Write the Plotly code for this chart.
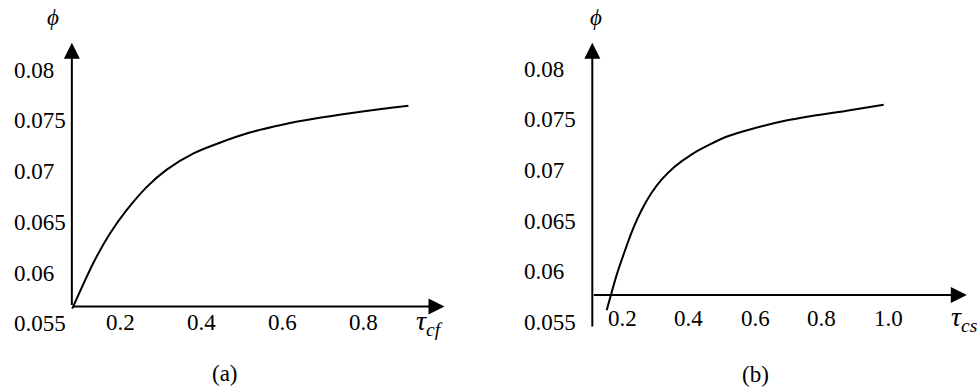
import plotly.graph_objects as go

# ---- data ----
tau_cf = [0.082, 0.134, 0.175, 0.216, 0.266, 0.315, 0.381, 0.446, 0.520, 0.603, 0.685, 0.767, 0.849, 0.911]
phi_a = [0.0565, 0.0610, 0.0639, 0.0662, 0.0685, 0.0702, 0.0718, 0.07285, 0.07385, 0.07465, 0.07525, 0.07575, 0.0762, 0.0765]

tau_cs = [0.154, 0.184, 0.209, 0.234, 0.259, 0.289, 0.319, 0.359, 0.410, 0.460, 0.520, 0.590, 0.690, 0.775, 0.876, 0.987]
phi_b = [0.0562, 0.0597, 0.0621, 0.0643, 0.0661, 0.0678, 0.0691, 0.0704, 0.0716, 0.0725, 0.0734, 0.0741, 0.0749, 0.0754, 0.0759, 0.0765]

x_ticks_a = [0.2, 0.4, 0.6, 0.8]
x_ticks_b = [0.2, 0.4, 0.6, 0.8, 1.0]
x_labels_b = ["0.2", "0.4", "0.6", "0.8", "1.0"]
y_ticks = [0.08, 0.075, 0.07, 0.065, 0.06, 0.055]
y_labels = ["0.08", "0.075", "0.07", "0.065", "0.06", "0.055"]

W, H = 979, 392
FONT = '"Liberation Serif", "Times New Roman", serif'
BLACK = "#000000"

fig = go.Figure()
fig.add_trace(go.Scatter(x=tau_cf, y=phi_a, mode="lines", xaxis="x", yaxis="y",
                         line=dict(color=BLACK, width=2, shape="spline", smoothing=0.8),
                         showlegend=False, hoverinfo="skip"))
fig.add_trace(go.Scatter(x=tau_cs, y=phi_b, mode="lines", xaxis="x2", yaxis="y2",
                         line=dict(color=BLACK, width=2, shape="spline", smoothing=0.8),
                         showlegend=False, hoverinfo="skip"))

ann = []

def arrow(xref, yref, x_tip, y_tip, x_tail, y_tail):
    ann.append(dict(x=x_tip, y=y_tip, ax=x_tail, ay=y_tail, xref=xref, yref=yref,
                    axref=xref, ayref=yref, showarrow=True, arrowhead=2, arrowsize=1.6,
                    arrowwidth=2, arrowcolor=BLACK, text=""))

# panel (a) axes
ox_a, oy_a = 0.081, 0.0567
arrow("x", "y", ox_a, 0.0827, ox_a, oy_a)
arrow("x", "y", 1.0, oy_a, ox_a, oy_a)
# panel (b) axes
ox_b, oy_b = 0.1107, 0.0577
arrow("x2", "y2", ox_b, 0.0826, ox_b, 0.05445)
arrow("x2", "y2", 1.237, oy_b, ox_b, oy_b)

tf = dict(family=FONT, size=23, color=BLACK)

for v, t in zip(y_ticks, y_labels):
    ann.append(dict(x=12 / W, y=v, xref="paper", yref="y", text=t, showarrow=False,
                    xanchor="left", yanchor="middle", font=tf))
    ann.append(dict(x=522 / W, y=v, xref="paper", yref="y2", text=t, showarrow=False,
                    xanchor="left", yanchor="middle", font=tf))

for v in x_ticks_a:
    ann.append(dict(x=v, y=1 - 322 / H, xref="x", yref="paper", text=f"{v:.1f}",
                    showarrow=False, xanchor="center", yanchor="middle", font=tf))
for v, t in zip(x_ticks_b, x_labels_b):
    ann.append(dict(x=v, y=1 - 318 / H, xref="x2", yref="paper", text=t,
                    showarrow=False, xanchor="center", yanchor="middle", font=tf))

# axis titles
ann.append(dict(x=53 / W, y=1 - 17 / H, xref="paper", yref="paper", text="<i>ϕ</i>",
                showarrow=False, xanchor="center", yanchor="middle", font=tf))
ann.append(dict(x=596 / W, y=1 - 17 / H, xref="paper", yref="paper", text="<i>ϕ</i>",
                showarrow=False, xanchor="center", yanchor="middle", font=tf))
ann.append(dict(x=414 / W, y=1 - 322 / H, xref="paper", yref="paper",
                text="<i>τ</i><sub><i>cf</i></sub>",
                showarrow=False, xanchor="left", yanchor="middle",
                font=dict(family=FONT, size=28, color=BLACK)))
ann.append(dict(x=949 / W, y=1 - 318 / H, xref="paper", yref="paper",
                text="<i>τ</i><sub><i>cs</i></sub>",
                showarrow=False, xanchor="left", yanchor="middle",
                font=dict(family=FONT, size=28, color=BLACK)))

# panel captions
ann.append(dict(x=225 / W, y=1 - 373 / H, xref="paper", yref="paper", text="(a)",
                showarrow=False, xanchor="center", yanchor="middle", font=tf))
ann.append(dict(x=755 / W, y=1 - 374 / H, xref="paper", yref="paper", text="(b)",
                showarrow=False, xanchor="center", yanchor="middle", font=tf))

hidden = dict(visible=False, showgrid=False, zeroline=False, fixedrange=True)

fig.update_layout(
    width=W, height=H, autosize=False,
    margin=dict(l=0, r=0, t=0, b=0),
    paper_bgcolor="white", plot_bgcolor="white",
    xaxis=dict(range=[0, 1.05], domain=[39 / W, (39 + 1.05 * 405.5) / W], **hidden),
    yaxis=dict(range=[0.05, 0.085], domain=[1 - 374.58 / H, 1 - 19.4 / H], **hidden),
    xaxis2=dict(range=[0.05, 1.26], domain=[(555.5 + 0.05 * 332.5) / W, (555.5 + 1.26 * 332.5) / W], **hidden),
    yaxis2=dict(range=[0.05, 0.085], domain=[1 - 373.12 / H, 1 - 18.53 / H], **hidden),
    annotations=ann,
    showlegend=False,
)

fig.write_html("out.html", config={"displayModeBar": False},
               post_script="document.body.style.margin='0';document.body.style.overflow='hidden';")
